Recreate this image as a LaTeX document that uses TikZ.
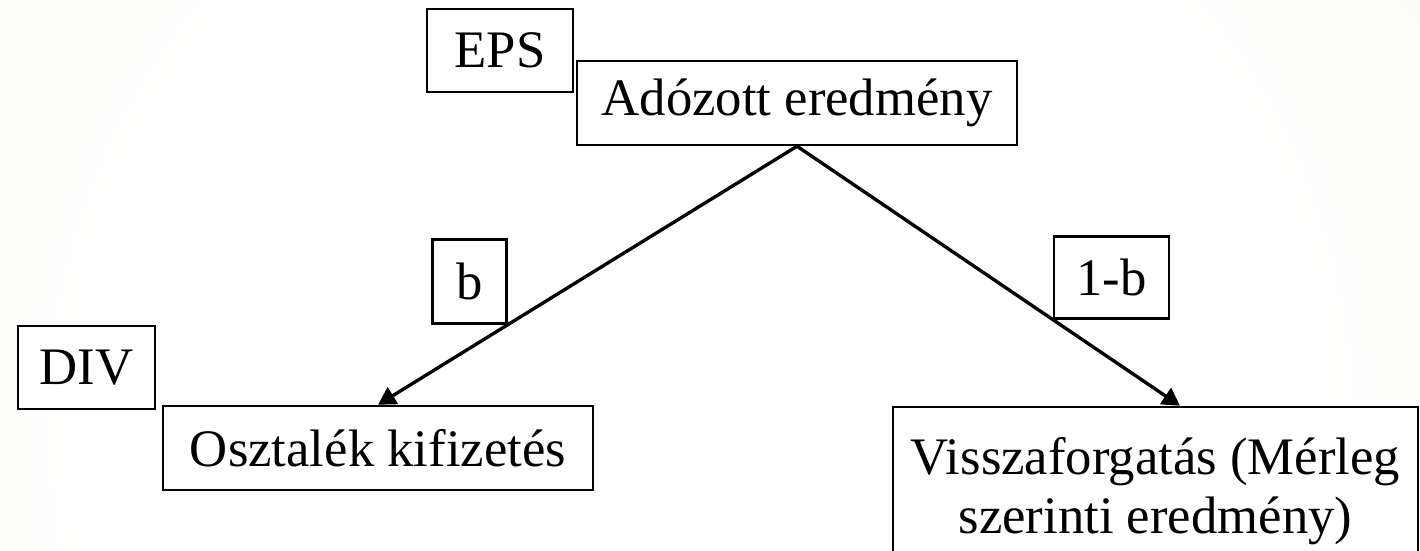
\documentclass[tikz,border=0pt]{standalone}
\usepackage{fontspec}
\setmainfont{Liberation Serif}
\usetikzlibrary{arrows.meta}
\definecolor{bgcream}{HTML}{F4F2E0}
\pgfdeclareradialshading{bgglow}{\pgfpoint{0bp}{0bp}}{color(0bp)=(white); color(18bp)=(white); color(50bp)=(bgcream)}

\begin{document}
\begin{tikzpicture}[x=0.02cm, y=-0.02cm]
		\tikzset{box style/.style={draw,
				line width=1.4pt,
				%rounded corners=0pt,
				fill=white, inner sep=0pt,
				font=\fontsize{30}{33.5}\selectfont},
			line style/.style={line width=1.9pt, -{Triangle[length=10pt,width=11pt]}}}
		
		% Background
		\useasboundingbox (0,0) rectangle (1420,551);
		\begin{scope}
			\clip (0,0) rectangle (1420,551);
			\shade[shading=bgglow] (700,420) circle (850);
		\end{scope}
		
		% Draw the boxes
		\node[box style, minimum width=2.92cm, minimum height=1.66cm] at (500,50.5) (eps) {EPS};
		\node[box style, minimum width=8.8cm, minimum height=1.68cm] at (797,103) (adozott) {Adózott eredmény};
		\node[box style, minimum width=2.74cm, minimum height=1.66cm] at (86.5,367.5) (div) {DIV};
		\node[box style, minimum width=8.6cm, minimum height=1.68cm] at (378,448) (osztalek) {Osztalék kifizetés};
		\node[box style, minimum width=10.5cm, minimum height=3.36cm, align=center] at (1155.5,491) (vissza) {Visszaforgatás (Mérleg\\szerinti eredmény)};
		
		% Connect the boxes with arrows
		\draw
		(adozott.south) edge[line style] node[box style, pos=0.69, anchor=south east, minimum width=1.48cm, minimum height=1.68cm] (b) {b} (osztalek.north)
				edge[line style] node[box style, pos=0.668, anchor=south west, minimum width=2.3cm, minimum height=1.64cm] (egyb) {1-b} ([xshift=0.49cm]vissza.north);
		
		\end{tikzpicture}
\end{document}
